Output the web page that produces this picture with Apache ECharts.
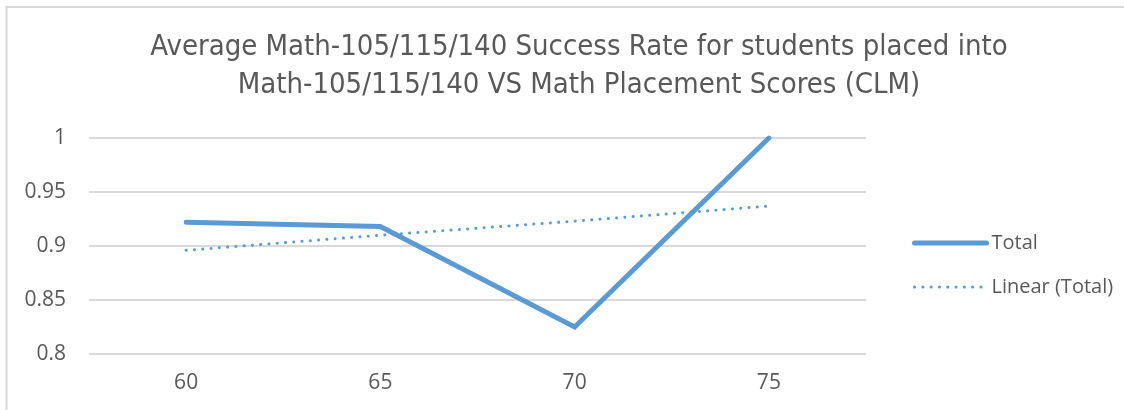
<!DOCTYPE html>
<html>
<head>
<meta charset="utf-8">
<script src="https://cdn.jsdelivr.net/npm/echarts@6/dist/echarts.min.js"></script>
<style>
html,body{margin:0;padding:0;background:#fff;}
#c{width:1124px;height:410px;}
</style>
</head>
<body>
<div id="c"></div>
<script>
var categories = ['60', '65', '70', '75'];
var totalValues = [0.922, 0.918, 0.825, 1.0];
var linearValues = [0.896, 0.910, 0.923, 0.937];
var yTicks = { min: 0.8, max: 1, interval: 0.05 };
var titleText = 'Average Math-105/115/140 Success Rate for students placed into\nMath-105/115/140 VS Math Placement Scores (CLM)';

var FONT = "'Liberation Sans Narrow', 'DejaVu Sans Condensed', 'Open Sans', sans-serif";
var LFONT = "'Open Sans', sans-serif";
var blue = '#5B9BD5';
var grey = '#595959';

var chart = echarts.init(document.getElementById('c'), null, {renderer: 'canvas'});
chart.setOption({
  animation: false,
  backgroundColor: '#fff',
  graphic: [{
    type: 'rect',
    shape: {x: 6.5, y: 7, width: 1200, height: 500},
    style: {fill: 'none', stroke: '#d9d9d9', lineWidth: 2},
    silent: true
  }],
  title: {
    text: titleText,
    left: 574,
    top: 23,
    textAlign: 'center',
    textStyle: {fontFamily: FONT, fontWeight: 'normal', fontSize: 29, color: grey, lineHeight: 38}
  },
  grid: {left: 89, right: 258, top: 138, bottom: 56, containLabel: false},
  legend: {
    orient: 'vertical',
    left: 907,
    top: 228,
    itemWidth: 72,
    itemHeight: 14,
    itemGap: 24,
    textStyle: {fontFamily: LFONT, fontSize: 20, color: grey},
    data: [
      {name: 'Total', itemStyle: {opacity: 0}, lineStyle: {color: blue, width: 5, cap: 'round'}},
      {name: 'Linear (Total)', itemStyle: {opacity: 0}, lineStyle: {color: blue, width: 3, type: [0.1, 8.2], cap: 'round'}}
    ]
  },
  xAxis: {
    type: 'category',
    data: categories,
    boundaryGap: true,
    axisLine: {show: false},
    axisTick: {show: false},
    axisLabel: {fontFamily: LFONT, fontSize: 21, color: grey, margin: 19}
  },
  yAxis: {
    type: 'value',
    min: yTicks.min,
    max: yTicks.max,
    interval: yTicks.interval,
    axisLine: {show: false},
    axisTick: {show: false},
    axisLabel: {fontFamily: LFONT, fontSize: 21, color: grey, margin: 23},
    splitLine: {lineStyle: {color: '#d9d9d9', width: 2}}
  },
  series: [
    {
      name: 'Total',
      type: 'line',
      data: totalValues,
      symbol: 'none',
      lineStyle: {color: blue, width: 5, cap: 'round', join: 'miter'},
      itemStyle: {color: blue}
    },
    {
      name: 'Linear (Total)',
      type: 'line',
      data: linearValues,
      symbol: 'none',
      lineStyle: {color: blue, width: 3, type: [0.1, 8.2], cap: 'round'},
      itemStyle: {color: blue}
    }
  ]
});
</script>
</body>
</html>
